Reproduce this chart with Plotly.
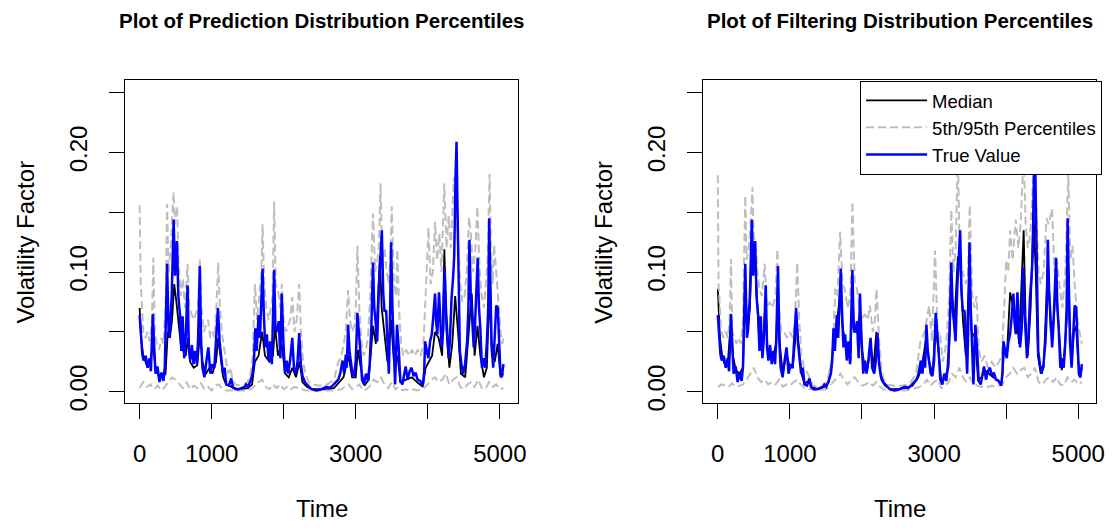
import plotly.graph_objects as go

# ---------------- data ----------------
# True value (shared by both panels)
true_t = [0, 18, 37, 55, 83, 110, 138, 156, 183, 202, 220, 248, 275, 303, 330, 349, 381, 404, 422, 445,
          472, 491, 518, 537, 560, 578, 596, 619, 642, 665, 683, 702, 725, 748, 771, 794, 812, 835, 853, 872,
          899, 927, 954, 982, 1009, 1037, 1060, 1087, 1110, 1133, 1156, 1179, 1202, 1238, 1271, 1294, 1330, 1376, 1422, 1459,
          1477, 1505, 1537, 1569, 1587, 1605, 1624, 1651, 1670, 1688, 1706, 1725, 1743, 1766, 1789, 1812, 1835, 1867, 1885, 1908,
          1931, 1954, 1972, 1995, 2018, 2041, 2064, 2092, 2119, 2142, 2170, 2193, 2215, 2238, 2261, 2294, 2339, 2385, 2454, 2523,
          2592, 2640, 2679, 2725, 2757, 2784, 2817, 2839, 2862, 2876, 2894, 2913, 2931, 2954, 2977, 3000, 3023, 3041, 3060, 3087,
          3115, 3142, 3170, 3193, 3216, 3239, 3257, 3275, 3298, 3321, 3344, 3362, 3381, 3399, 3422, 3440, 3459, 3472, 3491, 3509,
          3528, 3546, 3573, 3596, 3619, 3647, 3674, 3693, 3720, 3748, 3775, 3803, 3830, 3858, 3894, 3931, 3950, 3963, 3986, 4009,
          4032, 4055, 4078, 4101, 4115, 4133, 4156, 4174, 4193, 4216, 4234, 4252, 4270, 4289, 4307, 4330, 4353, 4367, 4385, 4399,
          4413, 4427, 4445, 4468, 4491, 4518, 4546, 4564, 4578, 4596, 4615, 4638, 4656, 4674, 4693, 4711, 4729, 4752, 4775, 4798,
          4821, 4839, 4853, 4867, 4885, 4908, 4931, 4950, 4972, 4991, 5009, 5028, 5050]
true_v = [0.064, 0.048, 0.031, 0.026, 0.030, 0.020, 0.028, 0.017, 0.065, 0.037, 0.015, 0.021, 0.008, 0.016, 0.009, 0.020, 0.107, 0.045, 0.053, 0.080,
          0.144, 0.097, 0.126, 0.080, 0.064, 0.034, 0.063, 0.028, 0.048, 0.089, 0.037, 0.026, 0.039, 0.023, 0.034, 0.023, 0.045, 0.105, 0.042, 0.020,
          0.012, 0.026, 0.037, 0.015, 0.023, 0.020, 0.042, 0.070, 0.042, 0.028, 0.015, 0.020, 0.006, 0.005, 0.011, 0.004, 0.002, 0.002, 0.003, 0.004,
          0.006, 0.004, 0.009, 0.015, 0.026, 0.053, 0.034, 0.064, 0.045, 0.070, 0.103, 0.064, 0.037, 0.048, 0.026, 0.042, 0.023, 0.102, 0.053, 0.050,
          0.059, 0.028, 0.082, 0.042, 0.015, 0.026, 0.015, 0.028, 0.045, 0.020, 0.015, 0.026, 0.049, 0.023, 0.013, 0.008, 0.005, 0.002, 0.001, 0.002,
          0.004, 0.003, 0.005, 0.008, 0.010, 0.015, 0.026, 0.015, 0.031, 0.020, 0.056, 0.034, 0.023, 0.015, 0.013, 0.026, 0.066, 0.053, 0.037, 0.010,
          0.006, 0.015, 0.009, 0.023, 0.053, 0.108, 0.070, 0.059, 0.042, 0.086, 0.108, 0.135, 0.083, 0.067, 0.068, 0.042, 0.015, 0.048, 0.125, 0.070,
          0.028, 0.006, 0.056, 0.037, 0.009, 0.006, 0.015, 0.021, 0.010, 0.017, 0.020, 0.013, 0.016, 0.010, 0.009, 0.005, 0.017, 0.042, 0.034, 0.028,
          0.042, 0.048, 0.064, 0.082, 0.059, 0.048, 0.083, 0.053, 0.037, 0.053, 0.104, 0.070, 0.048, 0.028, 0.042, 0.078, 0.097, 0.113, 0.179, 0.209,
          0.152, 0.097, 0.034, 0.023, 0.015, 0.023, 0.042, 0.070, 0.127, 0.083, 0.064, 0.037, 0.056, 0.083, 0.112, 0.070, 0.053, 0.020, 0.028, 0.020,
          0.042, 0.070, 0.145, 0.097, 0.042, 0.020, 0.053, 0.072, 0.070, 0.037, 0.015, 0.012, 0.023]

# Prediction distribution (left panel)
pred_med_t = [0, 20, 50, 100, 150, 183, 220, 270, 320, 360, 390, 420, 450, 480, 510, 540, 570, 600, 640, 670,
              700, 750, 800, 840, 870, 920, 970, 1010, 1060, 1090, 1120, 1160, 1200, 1250, 1300, 1400, 1500, 1560, 1600, 1650,
              1700, 1740, 1800, 1850, 1880, 1920, 1970, 2020, 2070, 2120, 2170, 2220, 2260, 2320, 2400, 2500, 2600, 2700, 2780, 2830,
              2900, 2950, 3000, 3030, 3070, 3120, 3180, 3240, 3280, 3335, 3360, 3400, 3440, 3490, 3530, 3580, 3620, 3700, 3780, 3850,
              3930, 3970, 4010, 4060, 4100, 4150, 4200, 4230, 4260, 4300, 4340, 4380, 4420, 4460, 4520, 4570, 4610, 4650, 4690, 4730,
              4780, 4820, 4855, 4890, 4930, 4970, 5010, 5050]
pred_med_v = [0.070, 0.045, 0.030, 0.022, 0.025, 0.040, 0.020, 0.012, 0.012, 0.015, 0.050, 0.045, 0.060, 0.090, 0.075, 0.060, 0.040, 0.035, 0.030, 0.045,
              0.025, 0.020, 0.022, 0.050, 0.025, 0.015, 0.020, 0.015, 0.025, 0.045, 0.030, 0.012, 0.006, 0.005, 0.003, 0.002, 0.003, 0.006, 0.025, 0.030,
              0.050, 0.030, 0.025, 0.030, 0.055, 0.030, 0.040, 0.015, 0.012, 0.020, 0.012, 0.025, 0.008, 0.004, 0.002, 0.002, 0.002, 0.003, 0.008, 0.012,
              0.030, 0.012, 0.012, 0.035, 0.020, 0.005, 0.010, 0.055, 0.040, 0.113, 0.070, 0.045, 0.025, 0.060, 0.025, 0.030, 0.008, 0.010, 0.012, 0.008,
              0.004, 0.020, 0.025, 0.030, 0.050, 0.045, 0.030, 0.119, 0.050, 0.020, 0.040, 0.080, 0.050, 0.015, 0.012, 0.050, 0.082, 0.030, 0.055, 0.030,
              0.012, 0.020, 0.083, 0.030, 0.025, 0.040, 0.012, 0.015]

pred_p95_t = [0, 15, 30, 50, 80, 110, 140, 170, 190, 210, 240, 270, 300, 330, 360, 381, 400, 430, 455, 470,
              490, 520, 540, 570, 600, 630, 665, 690, 720, 750, 780, 810, 835, 860, 890, 920, 950, 980, 1010, 1040,
              1065, 1090, 1115, 1140, 1170, 1200, 1230, 1260, 1290, 1330, 1400, 1460, 1500, 1540, 1570, 1600, 1630, 1660, 1690, 1706,
              1730, 1760, 1790, 1820, 1845, 1867, 1890, 1920, 1950, 1975, 2000, 2030, 2060, 2090, 2119, 2150, 2180, 2215, 2240, 2270,
              2300, 2350, 2400, 2500, 2600, 2700, 2750, 2800, 2830, 2860, 2894, 2920, 2950, 2980, 3000, 3023, 3050, 3080, 3110, 3140,
              3170, 3200, 3239, 3270, 3300, 3320, 3344, 3370, 3400, 3430, 3460, 3480, 3500, 3530, 3560, 3578, 3600, 3630, 3660, 3700,
              3740, 3780, 3820, 3860, 3900, 3940, 3970, 4009, 4040, 4070, 4101, 4130, 4160, 4190, 4229, 4260, 4290, 4320, 4362, 4390,
              4420, 4450, 4480, 4510, 4540, 4573, 4600, 4630, 4660, 4688, 4720, 4750, 4780, 4810, 4830, 4858, 4880, 4900, 4920, 4950,
              4980, 5010, 5035, 5050]
pred_p95_v = [0.156, 0.090, 0.075, 0.050, 0.045, 0.050, 0.042, 0.060, 0.112, 0.050, 0.040, 0.035, 0.045, 0.040, 0.070, 0.157, 0.100, 0.120, 0.150, 0.167,
              0.140, 0.155, 0.110, 0.080, 0.095, 0.070, 0.107, 0.070, 0.065, 0.060, 0.065, 0.070, 0.111, 0.070, 0.050, 0.055, 0.060, 0.045, 0.050, 0.045,
              0.070, 0.108, 0.070, 0.050, 0.035, 0.025, 0.015, 0.020, 0.010, 0.006, 0.005, 0.006, 0.008, 0.015, 0.030, 0.090, 0.060, 0.080, 0.100, 0.140,
              0.090, 0.070, 0.060, 0.070, 0.080, 0.159, 0.090, 0.085, 0.070, 0.090, 0.060, 0.050, 0.055, 0.060, 0.079, 0.050, 0.060, 0.090, 0.050, 0.025,
              0.015, 0.008, 0.006, 0.005, 0.006, 0.010, 0.023, 0.030, 0.038, 0.050, 0.085, 0.060, 0.050, 0.055, 0.070, 0.122, 0.070, 0.040, 0.030, 0.035,
              0.045, 0.080, 0.149, 0.100, 0.110, 0.120, 0.174, 0.110, 0.120, 0.100, 0.090, 0.110, 0.155, 0.090, 0.080, 0.119, 0.070, 0.040, 0.030, 0.035,
              0.030, 0.035, 0.030, 0.035, 0.030, 0.040, 0.080, 0.137, 0.090, 0.100, 0.142, 0.110, 0.132, 0.100, 0.174, 0.120, 0.147, 0.120, 0.179, 0.165,
              0.120, 0.090, 0.075, 0.080, 0.100, 0.146, 0.130, 0.100, 0.120, 0.155, 0.100, 0.080, 0.070, 0.090, 0.110, 0.182, 0.110, 0.090, 0.123, 0.100,
              0.070, 0.050, 0.040, 0.045]

pred_p5_t = [0, 50, 100, 150, 200, 250, 300, 350, 400, 450, 500, 550, 600, 650, 700, 750, 800, 850, 900, 950,
             1000, 1050, 1100, 1150, 1200, 1300, 1400, 1500, 1550, 1600, 1650, 1700, 1750, 1800, 1850, 1900, 1950, 2000, 2050, 2100,
             2150, 2200, 2250, 2300, 2400, 2500, 2600, 2700, 2800, 2850, 2900, 2950, 3000, 3050, 3100, 3150, 3200, 3250, 3300, 3350,
             3400, 3450, 3500, 3550, 3600, 3650, 3700, 3750, 3800, 3850, 3900, 3950, 4000, 4050, 4100, 4150, 4200, 4250, 4300, 4350,
             4400, 4450, 4500, 4550, 4600, 4650, 4700, 4750, 4800, 4850, 4900, 4950, 5000, 5050]
pred_p5_v = [0.003, 0.008, 0.004, 0.006, 0.002, 0.005, 0.001, 0.004, 0.008, 0.012, 0.010, 0.006, 0.003, 0.008, 0.002, 0.005, 0.003, 0.007, 0.002, 0.004,
             0.001, 0.005, 0.006, 0.002, 0.001, 0.001, 0.001, 0.001, 0.002, 0.005, 0.008, 0.010, 0.004, 0.002, 0.006, 0.003, 0.006, 0.002, 0.004, 0.002,
             0.004, 0.003, 0.002, 0.001, 0.001, 0.001, 0.001, 0.001, 0.002, 0.004, 0.006, 0.002, 0.004, 0.006, 0.001, 0.002, 0.005, 0.010, 0.008, 0.012,
             0.006, 0.003, 0.008, 0.002, 0.004, 0.001, 0.002, 0.001, 0.002, 0.001, 0.002, 0.003, 0.006, 0.010, 0.012, 0.008, 0.010, 0.015, 0.006, 0.010,
             0.012, 0.004, 0.002, 0.006, 0.008, 0.004, 0.010, 0.003, 0.002, 0.008, 0.004, 0.006, 0.002, 0.003]

# Filtering distribution (right panel)
filt_med_t = [0, 15, 30, 60, 100, 140, 183, 210, 250, 300, 350, 381, 410, 445, 472, 500, 520, 545, 575, 600,
              630, 660, 690, 730, 770, 810, 835, 860, 900, 930, 960, 1000, 1040, 1070, 1090, 1120, 1160, 1200, 1270, 1300,
              1400, 1480, 1540, 1590, 1610, 1650, 1700, 1730, 1770, 1810, 1840, 1867, 1890, 1930, 1970, 2000, 2040, 2080, 2120, 2160,
              2200, 2240, 2270, 2320, 2400, 2500, 2600, 2700, 2780, 2830, 2890, 2930, 2980, 3020, 3060, 3100, 3150, 3200, 3240, 3280,
              3330, 3360, 3400, 3440, 3490, 3520, 3570, 3610, 3660, 3700, 3760, 3820, 3880, 3940, 3970, 4010, 4055, 4100, 4140, 4180,
              4243, 4270, 4300, 4340, 4380, 4410, 4440, 4480, 4520, 4560, 4580, 4620, 4660, 4690, 4730, 4770, 4800, 4840, 4855, 4880,
              4910, 4940, 4970, 5000, 5030, 5050]
filt_med_v = [0.086, 0.070, 0.045, 0.030, 0.022, 0.025, 0.060, 0.030, 0.018, 0.015, 0.020, 0.090, 0.050, 0.070, 0.120, 0.100, 0.110, 0.075, 0.045, 0.050,
              0.040, 0.075, 0.035, 0.030, 0.030, 0.040, 0.090, 0.040, 0.015, 0.025, 0.030, 0.020, 0.020, 0.040, 0.060, 0.040, 0.015, 0.007, 0.009, 0.004,
              0.002, 0.004, 0.008, 0.030, 0.045, 0.055, 0.085, 0.055, 0.040, 0.035, 0.025, 0.085, 0.050, 0.050, 0.065, 0.035, 0.020, 0.020, 0.040, 0.020,
              0.050, 0.025, 0.010, 0.005, 0.002, 0.002, 0.003, 0.005, 0.012, 0.020, 0.045, 0.025, 0.015, 0.055, 0.035, 0.008, 0.012, 0.020, 0.090, 0.055,
              0.113, 0.110, 0.060, 0.030, 0.100, 0.050, 0.045, 0.010, 0.012, 0.018, 0.015, 0.012, 0.010, 0.006, 0.035, 0.030, 0.083, 0.070, 0.065, 0.040,
              0.135, 0.060, 0.030, 0.070, 0.150, 0.100, 0.030, 0.015, 0.020, 0.080, 0.110, 0.050, 0.060, 0.090, 0.050, 0.018, 0.025, 0.060, 0.120, 0.060,
              0.025, 0.050, 0.055, 0.025, 0.012, 0.020]

filt_p95_t = [0, 10, 25, 50, 80, 110, 140, 165, 183, 200, 230, 260, 290, 320, 350, 381, 400, 430, 455, 480,
              500, 525, 550, 580, 610, 651, 680, 720, 760, 800, 826, 850, 880, 920, 960, 1000, 1040, 1070, 1101, 1130,
              1160, 1200, 1250, 1280, 1320, 1400, 1480, 1520, 1560, 1600, 1630, 1660, 1697, 1730, 1760, 1800, 1840, 1867, 1900, 1930,
              1960, 2000, 2040, 2080, 2110, 2150, 2180, 2202, 2240, 2270, 2300, 2350, 2450, 2550, 2650, 2700, 2750, 2810, 2870, 2931,
              2970, 3014, 3050, 3080, 3120, 3170, 3210, 3239, 3270, 3300, 3330, 3360, 3400, 3440, 3470, 3495, 3530, 3560, 3590, 3620,
              3660, 3700, 3750, 3800, 3850, 3900, 3940, 3980, 4000, 4030, 4055, 4090, 4133, 4170, 4200, 4243, 4270, 4300, 4330, 4360,
              4395, 4420, 4450, 4480, 4520, 4560, 4590, 4637, 4670, 4700, 4740, 4780, 4820, 4862, 4890, 4920, 4950, 4990, 5020, 5050]
filt_p95_v = [0.181, 0.090, 0.075, 0.050, 0.045, 0.050, 0.045, 0.060, 0.111, 0.050, 0.045, 0.040, 0.045, 0.040, 0.060, 0.164, 0.110, 0.120, 0.140, 0.171,
              0.130, 0.125, 0.100, 0.085, 0.080, 0.107, 0.070, 0.075, 0.070, 0.080, 0.119, 0.070, 0.050, 0.050, 0.045, 0.050, 0.045, 0.060, 0.108, 0.060,
              0.030, 0.020, 0.015, 0.010, 0.005, 0.004, 0.005, 0.010, 0.020, 0.040, 0.086, 0.080, 0.134, 0.090, 0.086, 0.070, 0.080, 0.159, 0.090, 0.086,
              0.072, 0.060, 0.065, 0.060, 0.072, 0.050, 0.060, 0.086, 0.040, 0.020, 0.010, 0.006, 0.005, 0.005, 0.006, 0.010, 0.015, 0.042, 0.050, 0.072,
              0.042, 0.118, 0.047, 0.050, 0.025, 0.040, 0.080, 0.152, 0.100, 0.120, 0.200, 0.100, 0.100, 0.090, 0.100, 0.156, 0.080, 0.070, 0.080, 0.035,
              0.025, 0.030, 0.020, 0.025, 0.020, 0.025, 0.030, 0.080, 0.110, 0.100, 0.135, 0.110, 0.144, 0.120, 0.140, 0.200, 0.140, 0.120, 0.130, 0.160,
              0.210, 0.150, 0.100, 0.090, 0.100, 0.145, 0.140, 0.153, 0.100, 0.110, 0.090, 0.070, 0.100, 0.183, 0.110, 0.122, 0.090, 0.060, 0.050, 0.040]

filt_p5_t = [0, 50, 100, 150, 200, 250, 300, 350, 400, 450, 500, 550, 600, 650, 700, 750, 800, 850, 900, 950,
             1000, 1050, 1100, 1150, 1200, 1300, 1400, 1500, 1550, 1600, 1650, 1700, 1750, 1800, 1850, 1900, 1950, 2000, 2050, 2100,
             2150, 2200, 2250, 2300, 2400, 2500, 2600, 2700, 2800, 2850, 2900, 2950, 3000, 3050, 3100, 3150, 3200, 3250, 3300, 3350,
             3400, 3450, 3500, 3550, 3600, 3650, 3700, 3750, 3800, 3850, 3900, 3950, 4000, 4050, 4100, 4150, 4200, 4250, 4300, 4350,
             4400, 4450, 4500, 4550, 4600, 4650, 4700, 4750, 4800, 4850, 4900, 4950, 5000, 5050]
filt_p5_v = [0.004, 0.006, 0.005, 0.004, 0.007, 0.004, 0.005, 0.006, 0.010, 0.015, 0.020, 0.012, 0.008, 0.010, 0.006, 0.008, 0.006, 0.010, 0.004, 0.006,
             0.005, 0.008, 0.010, 0.006, 0.003, 0.002, 0.001, 0.002, 0.004, 0.008, 0.012, 0.015, 0.010, 0.006, 0.010, 0.012, 0.008, 0.005, 0.006, 0.008,
             0.005, 0.008, 0.004, 0.002, 0.001, 0.001, 0.001, 0.002, 0.004, 0.006, 0.010, 0.005, 0.008, 0.010, 0.003, 0.005, 0.008, 0.015, 0.012, 0.020,
             0.012, 0.008, 0.012, 0.006, 0.005, 0.004, 0.005, 0.004, 0.005, 0.004, 0.005, 0.006, 0.012, 0.015, 0.020, 0.015, 0.018, 0.020, 0.012, 0.015,
             0.020, 0.008, 0.006, 0.010, 0.012, 0.008, 0.012, 0.006, 0.005, 0.012, 0.008, 0.010, 0.006, 0.008]

# axis ticks and labels
x_tick_vals = [0, 1000, 2000, 3000, 4000, 5000]
x_tick_text = ["0", "1000", "", "3000", "", "5000"]
y_tick_vals = [0.00, 0.05, 0.10, 0.15, 0.20, 0.25]
y_tick_text = ["0.00", "", "0.10", "", "0.20", ""]

panel_titles = ["Plot of Prediction Distribution Percentiles", "Plot of Filtering Distribution Percentiles"]
x_label = "Time"
y_label = "Volatility Factor"
legend_names = ["Median", "5th/95th Percentiles", "True Value"]

# ---------------- figure ----------------
W, H = 1119, 528
FONT = "Liberation Sans, Arial, Helvetica, sans-serif"
GRAY = "#BEBEBE"
BLUE = "#0000FF"

box_top, box_bot = 81.7, 409.3
panels_px = [(126.0, 521.7), (708.3, 1104.3)]
xr = [-202, 5252]
yr = [-0.0096, 0.2603]

fig = go.Figure()

series = [
    (pred_med_t, pred_med_v, pred_p5_t, pred_p5_v, pred_p95_t, pred_p95_v),
    (filt_med_t, filt_med_v, filt_p5_t, filt_p5_v, filt_p95_t, filt_p95_v),
]

for i, (mt, mv, lt, lv, ht, hv) in enumerate(series):
    xa = "x" if i == 0 else "x2"
    ya = "y" if i == 0 else "y2"
    show = (i == 1)
    fig.add_trace(go.Scatter(x=mt, y=mv, mode="lines", name=legend_names[0],
                             line=dict(color="black", width=1.8), showlegend=show,
                             xaxis=xa, yaxis=ya))
    fig.add_trace(go.Scatter(x=lt, y=lv, mode="lines", name=legend_names[1],
                             line=dict(color=GRAY, width=2, dash="8px,4px"), showlegend=False,
                             legendgroup="pct", xaxis=xa, yaxis=ya))
    fig.add_trace(go.Scatter(x=ht, y=hv, mode="lines", name=legend_names[1],
                             line=dict(color=GRAY, width=2, dash="8px,4px"), showlegend=show,
                             legendgroup="pct", xaxis=xa, yaxis=ya))
    fig.add_trace(go.Scatter(x=true_t, y=true_v, mode="lines", name=legend_names[2],
                             line=dict(color=BLUE, width=2.5), showlegend=show,
                             xaxis=xa, yaxis=ya))

ydom = [(H - box_bot) / H, (H - box_top) / H]

def xaxis_cfg(px, anchor):
    return dict(domain=[px[0] / W, px[1] / W], range=xr, anchor=anchor,
                tickmode="array", tickvals=x_tick_vals, ticktext=x_tick_text,
                ticks="outside", ticklen=15, tickwidth=1, tickcolor="black",
                ticklabelstandoff=14,
                showline=True, linecolor="black", linewidth=1, mirror=True,
                showgrid=False, zeroline=False, fixedrange=True,
                tickfont=dict(family=FONT, size=24, color="black"))

def yaxis_cfg(anchor):
    return dict(domain=ydom, range=yr, anchor=anchor,
                tickmode="array", tickvals=y_tick_vals, ticktext=y_tick_text,
                ticks="outside", ticklen=15, tickwidth=1, tickcolor="black",
                tickangle=-90, ticklabelstandoff=13,
                showline=True, linecolor="black", linewidth=1, mirror=True,
                showgrid=False, zeroline=False, fixedrange=True,
                tickfont=dict(family=FONT, size=24, color="black"))

annotations = []
for i, px in enumerate(panels_px):
    cx = (px[0] + px[1]) / 2 / W
    annotations.append(dict(text="<b>" + panel_titles[i] + "</b>", x=cx, y=1 - 20.7 / H,
                            xref="paper", yref="paper", xanchor="center", yanchor="middle",
                            showarrow=False, font=dict(family=FONT, size=20.5, color="black")))
    annotations.append(dict(text=x_label, x=cx, y=1 - 516 / H,
                            xref="paper", yref="paper", xanchor="center", yanchor="middle",
                            showarrow=False, font=dict(family=FONT, size=24, color="black")))
    annotations.append(dict(text=y_label, x=(px[0] - 100) / W, y=(ydom[0] + ydom[1]) / 2,
                            xref="paper", yref="paper", xanchor="center", yanchor="middle",
                            textangle=-90, showarrow=False,
                            font=dict(family=FONT, size=24, color="black")))

fig.update_layout(
    width=W, height=H, autosize=False,
    margin=dict(l=0, r=0, t=0, b=0),
    paper_bgcolor="white", plot_bgcolor="white",
    xaxis=xaxis_cfg(panels_px[0], "y"),
    yaxis=yaxis_cfg("x"),
    xaxis2=xaxis_cfg(panels_px[1], "y2"),
    yaxis2=yaxis_cfg("x2"),
    annotations=annotations,
    showlegend=True,
    legend=dict(x=866.3 / W, y=(H - 82) / H, xanchor="left", yanchor="top",
                bgcolor="white", bordercolor="black", borderwidth=1,
                traceorder="normal", itemwidth=61,
                font=dict(family=FONT, size=18.5, color="black")),
)

fig.write_html("out.html", config={"displayModeBar": False},
               post_script="document.body.style.margin='0';")
